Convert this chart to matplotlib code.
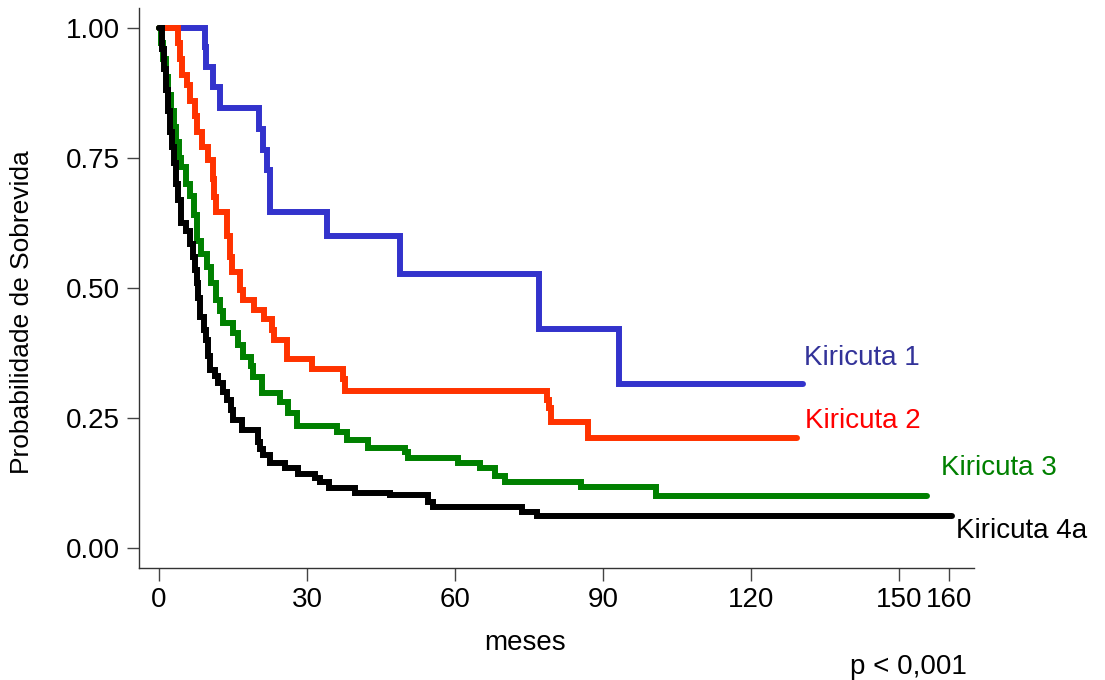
import matplotlib
matplotlib.use("Agg")
import matplotlib.pyplot as plt

plt.rcParams['font.family'] = ['Liberation Sans', 'DejaVu Sans']

# ---- data (months, survival probability after each time) ----
t_k1 = [0, 9.3, 9.6, 10.9, 12.3, 20.2, 21.0, 21.9, 22.5, 34.0, 48.8, 76.9, 93.1, 130.4]
s_k1 = [1.0, 0.963, 0.925, 0.887, 0.846, 0.806, 0.765, 0.727, 0.646, 0.599, 0.527, 0.421, 0.315, 0.315]

t_k2 = [0, 3.9, 4.3, 4.7, 5.6, 6.2, 7.3, 7.8, 8.8, 10.0, 10.9, 11.2, 11.6, 13.8, 14.3, 14.8,
        16.4, 17.0, 19.3, 21.3, 22.9, 23.3, 25.9, 31.0, 37.3, 37.7, 78.6, 79.0, 79.4, 87.0, 129.2]
s_k2 = [1.0, 0.97, 0.94, 0.91, 0.89, 0.86, 0.83, 0.80, 0.77, 0.745, 0.71, 0.675, 0.646, 0.60, 0.56, 0.531,
        0.496, 0.477, 0.458, 0.44, 0.42, 0.40, 0.363, 0.344, 0.325, 0.302, 0.285, 0.27, 0.243, 0.212, 0.212]

t_k3 = [0, 0.4, 0.8, 1.4, 1.9, 2.4, 3.0, 3.5, 4.0, 4.5, 5.5, 6.2, 7.0, 7.8, 8.6, 9.8, 10.6, 11.6,
        12.4, 13.0, 15.0, 16.0, 17.0, 18.6, 19.0, 20.8, 24.5, 26.1, 27.9, 36.0, 38.0, 42.3, 49.8,
        50.4, 60.5, 65.0, 68.0, 70.0, 85.4, 100.6, 155.5]
s_k3 = [1.0, 0.97, 0.94, 0.906, 0.87, 0.84, 0.81, 0.78, 0.75, 0.733, 0.70, 0.676, 0.64, 0.59, 0.565,
        0.541, 0.51, 0.477, 0.455, 0.433, 0.413, 0.39, 0.368, 0.35, 0.329, 0.298, 0.28, 0.26, 0.235,
        0.223, 0.208, 0.192, 0.185, 0.173, 0.163, 0.154, 0.138, 0.128, 0.117, 0.100, 0.100]

t_k4 = [0, 0.6, 1.0, 1.4, 1.8, 2.2, 2.6, 3.0, 3.4, 3.8, 4.4, 5.5, 6.3, 6.9, 7.2, 7.6, 8.0, 8.4,
        9.2, 9.6, 10.0, 10.4, 11.4, 12.0, 13.0, 13.8, 14.5, 15.0, 16.8, 20.0, 20.5, 21.0, 22.5,
        25.5, 28.1, 31.6, 32.6, 34.4, 39.7, 46.8, 54.5, 55.5, 73.5, 76.5, 160.7]
s_k4 = [1.0, 0.96, 0.92, 0.88, 0.84, 0.80, 0.77, 0.74, 0.70, 0.67, 0.625, 0.61, 0.585, 0.56, 0.535,
        0.51, 0.48, 0.445, 0.42, 0.40, 0.37, 0.342, 0.33, 0.317, 0.30, 0.285, 0.265, 0.246, 0.227,
        0.204, 0.19, 0.179, 0.164, 0.154, 0.142, 0.135, 0.127, 0.115, 0.106, 0.102, 0.088, 0.079,
        0.069, 0.062, 0.062]

labels = ["Kiricuta 1", "Kiricuta 2", "Kiricuta 3", "Kiricuta 4a"]
x_ticks = [0, 30, 60, 90, 120, 150, 160]
y_ticks = [0.0, 0.25, 0.5, 0.75, 1.0]
y_ticklabels = ["0.00", "0.25", "0.50", "0.75", "1.00"]

# ---- figure ----
W, H = 1105, 680
fig = plt.figure(figsize=(W / 100, H / 100), dpi=100)
ax = fig.add_axes([139 / W, 1 - 568 / H, (974 - 139) / W, (568 - 8) / H])

line_colors = ["#3333CC", "#FF3300", "#008000", "#000000"]
text_colors = ["#333399", "#FF0000", "#008000", "#000000"]
series = [(t_k1, s_k1), (t_k2, s_k2), (t_k3, s_k3), (t_k4, s_k4)]
for (t, s), c in zip(series, line_colors):
    ax.step(t, s, where="post", color=c, lw=4.3, solid_capstyle="round",
            solid_joinstyle="miter", clip_on=False)

# curve labels
label_pos = [(130.6, 0.352), (130.8, 0.231), (158.4, 0.140), (161.5, 0.019)]
for lab, (x, y), c in zip(labels, label_pos, text_colors):
    ax.text(x, y, lab, color=c, fontsize=20, ha="left", va="baseline", clip_on=False)

ax.set_xlim(-4.05, 165.1)
ax.set_ylim(-0.038, 1.038)
ax.set_xticks(x_ticks)
ax.set_xticklabels([str(v) for v in x_ticks])
ax.set_yticks(y_ticks)
ax.set_yticklabels(y_ticklabels)

for sp in ["top", "right"]:
    ax.spines[sp].set_visible(False)
for sp in ["left", "bottom"]:
    ax.spines[sp].set_color("#333333")
    ax.spines[sp].set_linewidth(1.0)

ax.tick_params(axis="both", direction="out", length=9, width=1, color="#444444",
               labelsize=20, pad=5, labelcolor="black")

fig.text(525 / W, 1 - 650 / H, "meses", fontsize=20, ha="center", va="baseline")
fig.text(908 / W, 1 - 674 / H, "p < 0,001", fontsize=20, ha="center", va="baseline")
fig.text(22 / W, 1 - 312 / H, "Probabilidade de Sobrevida", fontsize=19, rotation=90,
         ha="center", va="center")

fig.savefig("out.png", dpi=100, facecolor="white")
